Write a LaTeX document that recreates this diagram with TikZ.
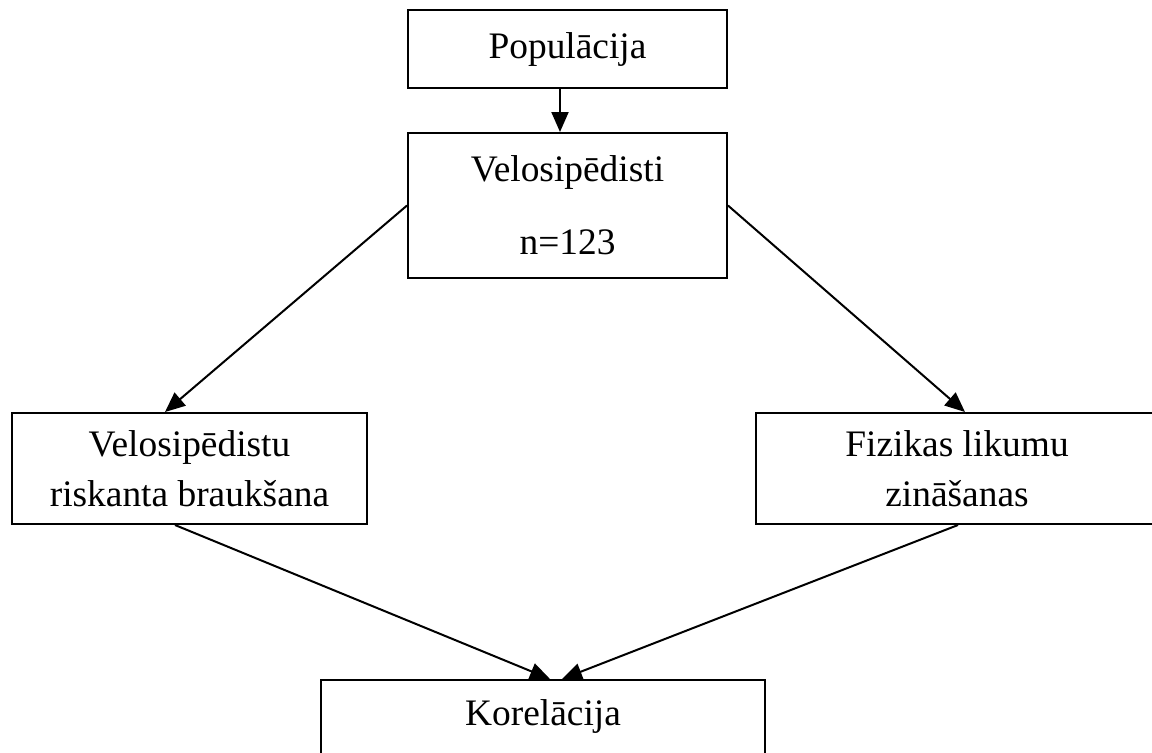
\documentclass[tikz,border=0pt]{standalone}
\usepackage{fontspec}
\setmainfont{Liberation Serif}
\usetikzlibrary{arrows.meta}
\begin{document}
\begin{tikzpicture}[x=0.5pt,y=-0.5pt,
  box/.style={draw=black,line width=1pt,inner sep=0pt,align=center,
    font=\fontsize{18.7}{25}\selectfont},
  arr/.style={line width=1pt,-{Triangle[length=10pt,width=8.5pt]}}]
\useasboundingbox (0,0) rectangle (1152,752);
\begin{scope}
\clip (0,0) rectangle (1152,752);
\node[box,minimum width=159.5pt,minimum height=39pt] (pop) at (567.5,49) {Populācija};
\node[box,minimum width=159.5pt,minimum height=72.5pt] (velo) at (567.5,205.5) {Velosipēdisti\\[11.5pt]n=123};
\node[box,minimum width=177.5pt,minimum height=55.5pt] (left) at (189.5,468.5) {Velosipēdistu\\riskanta braukšana};
\node[box,minimum width=201pt,minimum height=55.5pt] (right) at (957,468.5) {Fizikas likumu\\zināšanas};
\node[box,minimum width=222pt,minimum height=57.5pt,anchor=north] (kor) at (543,679) {Korelācija\\\mbox{}};
\draw[arr] ([xshift=-3.75pt]pop.south) -- ([xshift=-3.75pt]velo.north);
\draw[arr] (velo.west) -- ([xshift=-12.25pt]left.north);
\draw[arr] (velo.east) -- ([xshift=4pt]right.north);
\draw[arr] ([xshift=-7.25pt]left.south) -- ([xshift=3.5pt]kor.north);
\draw[arr] ([xshift=0.5pt]right.south) -- ([xshift=9.5pt]kor.north);
\end{scope}
\end{tikzpicture}
\end{document}
